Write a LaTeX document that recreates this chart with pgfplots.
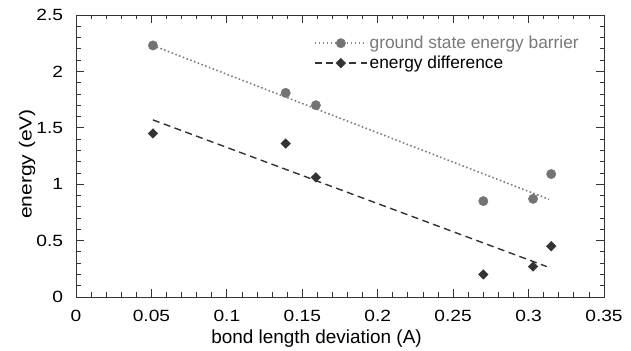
\documentclass[border=0pt]{standalone}
\usepackage{pgfplots}
\pgfplotsset{compat=1.18}
\usepackage{fontspec}
\setmainfont{Liberation Sans}
\newfontfamily\tickfont{Liberation Sans}[FakeStretch=1.18]
\newfontfamily\ylabfont{Liberation Sans}[FakeStretch=1.2]
\definecolor{cgray}{gray}{0.45}
\definecolor{lgray}{gray}{0.5}
\definecolor{tgray}{gray}{0.47}
\definecolor{dark}{gray}{0.2}
\newcommand\tl[1]{\mbox{\tickfont\fontsize{16.3}{18}\selectfont #1}}
\pgfplotsset{
  glegA/.style={legend image code/.code={\draw[lgray, line width=1.6bp, dash pattern=on 1.6bp off 2.4bp] (0bp,0bp) -- (52bp,0bp); \draw[##1] plot coordinates {(26bp,0bp)};}},
  glegB/.style={legend image code/.code={\draw[dark, line width=1.4bp, dash pattern=on 7bp off 4.5bp] (0bp,0bp) -- (52bp,0bp); \draw[##1] plot coordinates {(26bp,0bp)};}},
}
\begin{document}
\begin{tikzpicture}
\begin{axis}[
  scale only axis, width=528bp, height=282bp,
  xmin=0, xmax=0.35, ymin=0, ymax=2.5,
  xtick={0,0.05,0.1,0.15,0.2,0.25,0.3,0.35},
  xticklabels={\tl{0},\tl{0.05},\tl{0.1},\tl{0.15},\tl{0.2},\tl{0.25},\tl{0.3},\tl{0.35}},
  ytick={0,0.5,1,1.5,2,2.5},
  yticklabels={\tl{0},\tl{0.5},\tl{1},\tl{1.5},\tl{2},\tl{2.5}},
  minor x tick num=4, minor y tick num=4,
  tick align=inside,
  major tick length=8bp, minor tick length=4.5bp,
  axis line style={black!80, line width=0.8bp},
  tick style={black!80, line width=0.8bp},
  /pgf/number format/assume math mode=true,
  xticklabel style={text=black, inner sep=0pt, anchor=base, yshift=-24.7bp},
  yticklabel style={text=black, inner sep=0pt, anchor=east, xshift=-12.7bp},
  xlabel={bond length deviation (A)},
  ylabel={\ylabfont\fontsize{17.6}{20}\selectfont energy (eV)},
  xlabel style={font=\fontsize{19}{22}\selectfont, text=black, at={(axis description cs:0.4555,-0.164)}, anchor=base},
  ylabel style={text=black, at={(axis description cs:-0.0928,0.4716)}, anchor=center},
  legend style={draw=none, fill=none, at={(axis description cs:0.4505,1)}, anchor=north west, yshift=-18bp,
    inner sep=0pt, row sep=0pt, column sep=0pt,
    font=\fontsize{17.4}{20}\selectfont,
    nodes={inner xsep=2bp, inner ysep=1bp, text height=14bp, text depth=4bp}},
  legend cell align=left,
]
\addplot[lgray, line width=1.6bp, dash pattern=on 1.6bp off 2.4bp, forget plot] coordinates {(0.051,2.229) (0.3135,0.866)};
\addplot[dark, line width=1.4bp, dash pattern=on 7bp off 4.5bp, forget plot] coordinates {(0.051,1.57) (0.312,0.27)};
\addplot[only marks, mark=*, mark size=4.7bp, color=cgray, glegA]
  coordinates {(0.051,2.23) (0.139,1.81) (0.159,1.70) (0.270,0.85) (0.303,0.87) (0.315,1.09)};
\addlegendentry{\textcolor{tgray}{ground state energy barrier}}
\addplot[only marks, mark=square*, mark size=3.4bp, mark options={rotate=45}, color=dark, glegB]
  coordinates {(0.051,1.45) (0.139,1.36) (0.159,1.06) (0.270,0.20) (0.303,0.27) (0.315,0.45)};
\addlegendentry{energy difference}
\end{axis}
\path ([shift={(-76bp,-51bp)}]current axis.south west) rectangle ([shift={(27bp,15bp)}]current axis.north east);
\end{tikzpicture}
\end{document}
